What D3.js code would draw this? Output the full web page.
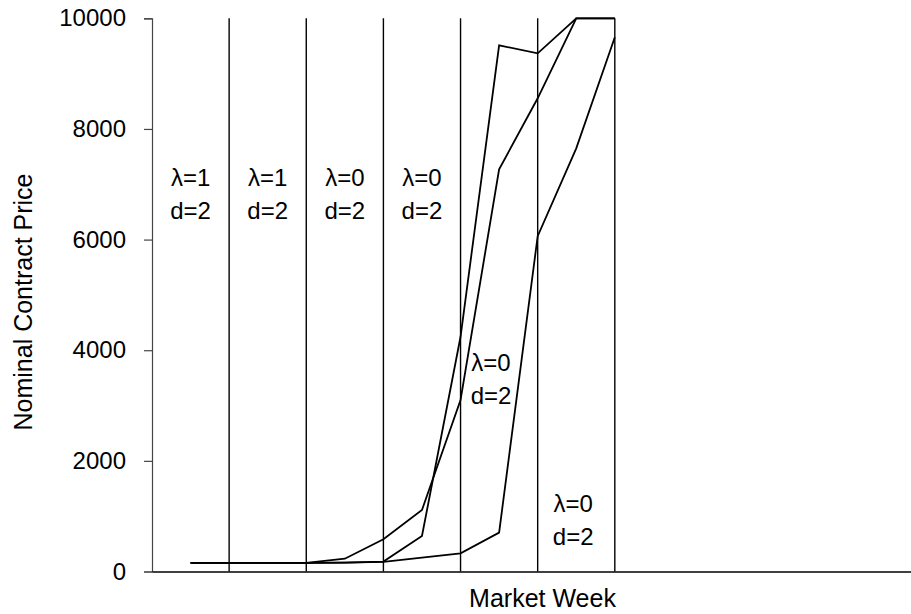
<!DOCTYPE html>
<html>
<head>
<meta charset="utf-8">
<script src="https://cdn.jsdelivr.net/npm/d3@7"></script>
<style>
  html, body { margin: 0; padding: 0; background: #fff; }
  svg { display: block; font-family: "Liberation Sans", Arial, sans-serif; }
</style>
</head>
<body>
<svg id="chart" width="911" height="614"></svg>
<script>
// Market weeks and nominal contract prices for the three sessions
const weeks = [1, 2, 3, 4, 5, 6, 7, 8, 9, 10, 11, 12];
const sessionA = [155, 155, 155, 155, 160, 180, 642, 4243, 9512, 9367, 10000, 10000];
const sessionB = [155, 155, 155, 155, 231, 582, 1112, 3100, 7270, 8554, 10000, 10000];
const sessionC = [155, 155, 155, 155, 160, 175, 250, 329, 702, 6062, 7650, 9657];

// Treatment change points (end of each two-week block)
const dividerWeeks = [2, 4, 6, 8, 10, 12];

// Treatment annotations: week position, price level, text lines
const noteWeeks = [1, 3, 5, 7, 8.79, 10.92];
const notePrices = [6968, 6968, 6968, 6968, 3624, 1075];
const noteLambda = ["λ=1", "λ=1", "λ=0", "λ=0", "λ=0", "λ=0"];
const noteD = ["d=2", "d=2", "d=2", "d=2", "d=2", "d=2"];

const yTicks = [0, 2000, 4000, 6000, 8000, 10000];

const svg = d3.select("#chart");
const x = d3.scaleLinear().domain([0, 20.25]).range([152, 933]);
const y = d3.scaleLinear().domain([0, 10000]).range([571.5, 18.3]);

// Treatment dividers
svg.append("g")
  .selectAll("line")
  .data(dividerWeeks)
  .join("line")
  .attr("x1", d => x(d)).attr("x2", d => x(d))
  .attr("y1", y(0)).attr("y2", y(10000))
  .attr("stroke", "#000").attr("stroke-width", 1.4);

// Price paths
const line = d3.line().x((d, i) => x(weeks[i])).y(d => y(d));
svg.append("g")
  .selectAll("path")
  .data([sessionA, sessionB, sessionC])
  .join("path")
  .attr("d", line)
  .attr("fill", "none")
  .attr("stroke", "#000")
  .attr("stroke-width", 1.8)
  .attr("stroke-linejoin", "miter");

// Y axis
const yAxis = svg.append("g")
  .attr("transform", `translate(${x(0)},0)`)
  .call(d3.axisLeft(y).tickValues(yTicks).tickSize(8).tickPadding(18).tickFormat(d3.format("d")));
yAxis.select(".domain").attr("stroke", "#444").attr("stroke-width", 1.2);
yAxis.selectAll(".tick line").attr("stroke", "#444").attr("stroke-width", 1.2);
yAxis.selectAll(".tick text")
  .attr("font-size", 24)
  .attr("font-family", "Liberation Sans, Arial, sans-serif")
  .attr("fill", "#000");

// X axis (no tick labels)
const xAxis = svg.append("g")
  .attr("transform", `translate(0,${y(0)})`)
  .call(d3.axisBottom(x).tickValues([]).tickSizeOuter(0));
xAxis.select(".domain").attr("stroke", "#000").attr("stroke-width", 1.4);

// Treatment annotations
const notes = svg.append("g")
  .attr("font-size", 24)
  .attr("text-anchor", "middle")
  .attr("fill", "#000");
notes.selectAll("text.lam")
  .data(noteWeeks)
  .join("text")
  .attr("class", "lam")
  .attr("x", d => x(d))
  .attr("y", (d, i) => y(notePrices[i]))
  .text((d, i) => noteLambda[i]);
notes.selectAll("text.dd")
  .data(noteWeeks)
  .join("text")
  .attr("class", "dd")
  .attr("x", d => x(d))
  .attr("y", (d, i) => y(notePrices[i]) + 33)
  .text((d, i) => noteD[i]);

// Axis titles
svg.append("text")
  .attr("x", (x.range()[0] + x.range()[1]) / 2)
  .attr("y", 607)
  .attr("text-anchor", "middle")
  .attr("font-size", 25)
  .text("Market Week");

svg.append("text")
  .attr("transform", `translate(32,${302}) rotate(-90)`)
  .attr("text-anchor", "middle")
  .attr("font-size", 25)
  .text("Nominal Contract Price");
</script>
</body>
</html>
